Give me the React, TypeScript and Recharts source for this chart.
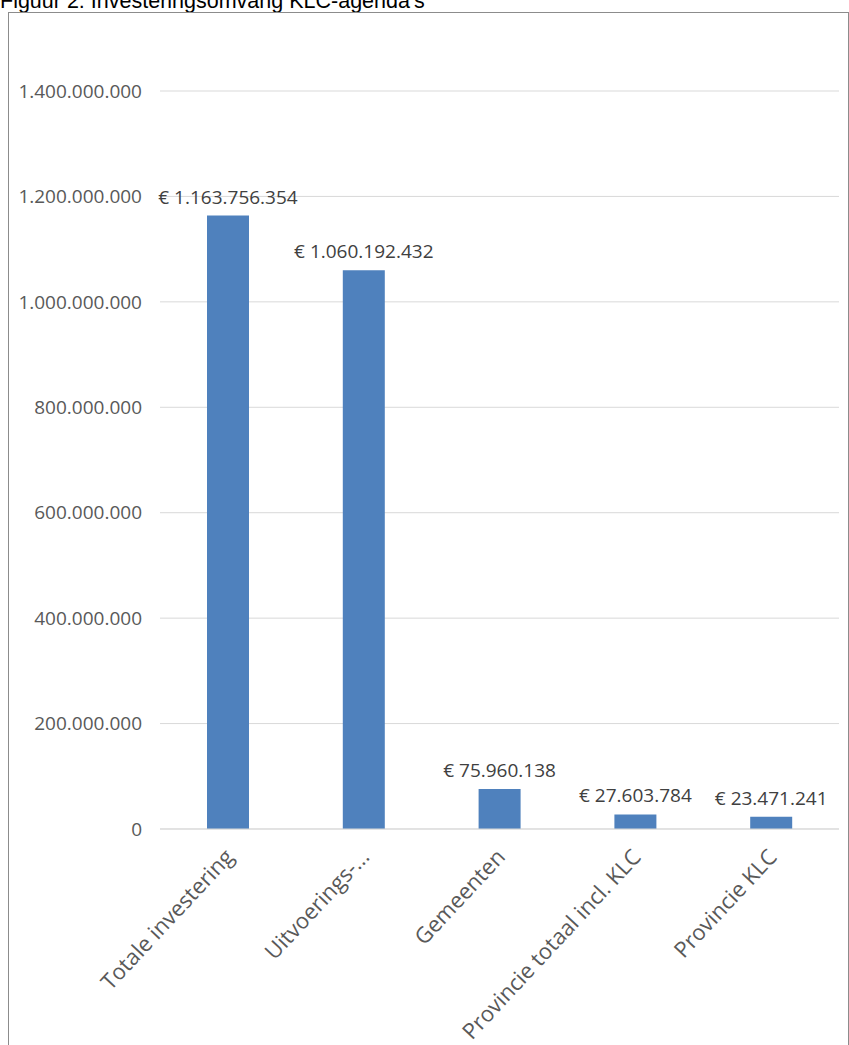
import React from 'react';
import { BarChart, Bar, XAxis, YAxis, CartesianGrid, LabelList } from 'recharts';

const categories = [
  'Totale investering',
  'Uitvoerings-...',
  'Gemeenten',
  'Provincie totaal incl. KLC',
  'Provincie KLC',
];
const amounts = [1163756354, 1060192432, 75960138, 27603784, 23471241];
const yTicks = [0, 200000000, 400000000, 600000000, 800000000, 1000000000, 1200000000, 1400000000];

const data = categories.map((name, i) => ({ name, amount: amounts[i] }));

const dotted = (v: number) => String(Math.round(v)).replace(/\B(?=(\d{3})+(?!\d))/g, '.');

const XTick = (props: any) => {
  const { x, y, payload } = props;
  return (
    <g transform={`translate(${x + 7},${y + 21})`}>
      <text
        textAnchor="end"
        transform="rotate(-47)"
        fill="#595959"
        fontSize={22}
        fontFamily="'Open Sans', sans-serif"
      >
        {payload.value}
      </text>
    </g>
  );
};

const ValueLabel = (props: any) => {
  const { x, y, width, value } = props;
  return (
    <text
      x={x + width / 2}
      y={y - 12}
      textAnchor="middle"
      fill="#404040"
      fontSize={19}
      fontFamily="'Open Sans', sans-serif"
    >
      {'€ ' + dotted(Number(value))}
    </text>
  );
};

export default function App() {
  return (
    <div style={{ position: 'absolute', left: 0, top: 0, width: 849, height: 1045, overflow: 'hidden', background: '#fff' }}>
      <div
        style={{
          position: 'absolute',
          left: 0,
          top: -11,
          fontFamily: "'Liberation Sans', Arial, sans-serif",
          fontSize: 21.5,
          color: '#000',
          whiteSpace: 'nowrap',
        }}
      >
        Figuur 2: Investeringsomvang KLC-agenda's
      </div>
      <div
        style={{
          position: 'absolute',
          left: 8,
          top: 12,
          width: 839,
          height: 1040,
          borderLeft: '1px solid #8c8c8c',
          borderTop: '1px solid #8c8c8c',
          borderRight: '1px solid #8c8c8c',
        }}
      >
        <BarChart
          width={839}
          height={1032}
          data={data}
          margin={{ top: 78, right: 9, left: 0, bottom: 0 }}
        >
          <CartesianGrid vertical={false} stroke="#d9d9d9" />
          <XAxis
            dataKey="name"
            interval={0}
            height={216}
            tickLine={false}
            axisLine={{ stroke: '#d9d9d9' }}
            tick={<XTick />}
          />
          <YAxis
            width={151}
            domain={[0, 1400000000]}
            ticks={yTicks}
            tickFormatter={dotted}
            tickLine={false}
            axisLine={false}
            tick={{ fill: '#595959', fontSize: 19, fontFamily: "'Open Sans', sans-serif" }}
            tickMargin={12}
          />
          <Bar dataKey="amount" fill="#4F81BD" barSize={42} isAnimationActive={false}>
            <LabelList dataKey="amount" content={<ValueLabel />} />
          </Bar>
        </BarChart>
      </div>
    </div>
  );
}
